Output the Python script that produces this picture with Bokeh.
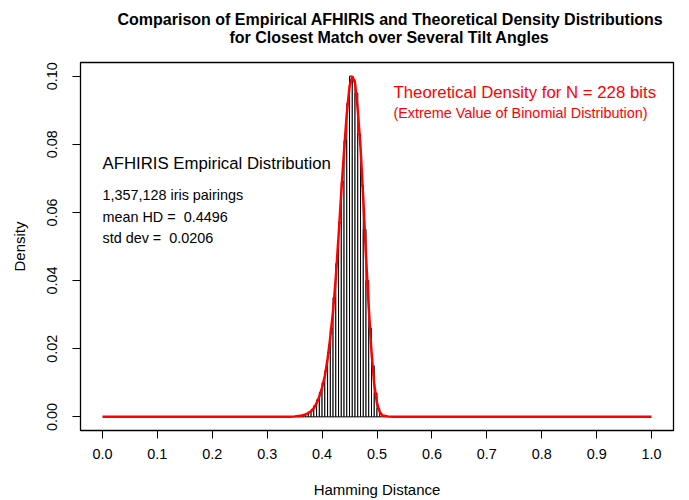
from bokeh.plotting import figure
from bokeh.models import Range1d, FixedTicker, PrintfTickFormatter, ColumnDataSource, Title
from bokeh.core.properties import value
from bokeh.embed import file_html
from bokeh.resources import INLINE

# ---- data ----
bin_left = [0.355, 0.360, 0.365, 0.370, 0.375, 0.380, 0.385, 0.390, 0.395, 0.400,
            0.405, 0.410, 0.415, 0.420, 0.425, 0.430, 0.435, 0.440, 0.445, 0.450,
            0.455, 0.460, 0.465, 0.470, 0.475, 0.480, 0.485, 0.490, 0.495, 0.500,
            0.505, 0.510]
bin_density = [0.0002, 0.0004, 0.0006, 0.0009, 0.0014, 0.0022, 0.0033, 0.0050, 0.0072, 0.0100,
               0.0135, 0.0190, 0.0260, 0.0350, 0.0450, 0.0570, 0.0690, 0.0810, 0.0920, 0.1000,
               0.0990, 0.0950, 0.0830, 0.0680, 0.0550, 0.0400, 0.0260, 0.0150, 0.0070, 0.0025,
               0.0008, 0.0002]
bin_width = 0.005

theory_x = [0.0, 0.34, 0.35, 0.36, 0.37, 0.38, 0.385, 0.39, 0.395, 0.40, 0.405, 0.41, 0.415,
            0.42, 0.425, 0.43, 0.435, 0.44, 0.445, 0.45, 0.455, 0.46, 0.465, 0.47, 0.475,
            0.48, 0.485, 0.49, 0.495, 0.50, 0.505, 0.51, 0.52, 0.53, 1.0]
theory_y = [0.0, 0.0, 0.0001, 0.0003, 0.0007, 0.0016, 0.0026, 0.0040, 0.0060, 0.0086, 0.012, 0.017,
            0.0235, 0.031, 0.041, 0.053, 0.066, 0.078, 0.089, 0.097, 0.100, 0.098, 0.090, 0.079,
            0.064, 0.047, 0.032, 0.019, 0.0095, 0.004, 0.0014, 0.0004, 0.0001, 0.0, 0.0]

x_ticks = [0.0, 0.1, 0.2, 0.3, 0.4, 0.5, 0.6, 0.7, 0.8, 0.9, 1.0]
y_ticks = [0.00, 0.02, 0.04, 0.06, 0.08, 0.10]

title_lines = ["Comparison of Empirical AFHIRIS and Theoretical Density Distributions",
               "for Closest Match over Several Tilt Angles"]
emp_lines = ["1,357,128 iris pairings", "mean HD =\u00a0\u00a00.4496", "std dev =\u00a0\u00a00.0206"]
emp_y = [0.0651, 0.0587, 0.0525]

FONT = "Liberation Sans"
BASE = "14.4px"
BIG = "16.8px"

p = figure(width=689, height=500, output_backend="svg", toolbar_location=None,
           x_range=Range1d(-0.04, 1.04), y_range=Range1d(-0.004, 0.104),
           min_border_left=80, min_border_right=16, min_border_top=62, min_border_bottom=70)
p.background_fill_color = "white"
p.border_fill_color = "white"
p.outline_line_color = "black"
p.outline_line_width = 1.3
p.xgrid.visible = False
p.ygrid.visible = False

p.title = None
# second title line carries an empty trailing line so that it sits higher above the frame
t2 = Title(text=title_lines[1] + "\n", align="left", text_font=FONT, text_font_size="16px",
           text_font_style="bold", standoff=0, offset=149, text_line_height=1.0,
           text_color="black")
t1 = Title(text=title_lines[0], align="left", text_font=FONT, text_font_size="16px",
           text_font_style="bold", standoff=-3, offset=37, text_color="black")
p.add_layout(t2, "above")
p.add_layout(t1, "above")

src = ColumnDataSource(dict(left=bin_left,
                            right=[b + bin_width for b in bin_left],
                            top=bin_density,
                            bottom=[0.0] * len(bin_left)))
p.quad(left="left", right="right", top="top", bottom="bottom", source=src,
       fill_color="white", line_color="black", line_width=1)

p.line(theory_x, theory_y, line_color="red", line_width=2.5)

for ax, ticks, fmt in ((p.xaxis[0], x_ticks, "%.1f"), (p.yaxis[0], y_ticks, "%.2f")):
    ax.ticker = FixedTicker(ticks=ticks)
    ax.formatter = PrintfTickFormatter(format=fmt)
    ax.bounds = (ticks[0], ticks[-1])
    ax.major_tick_out = 8
    ax.major_tick_in = 0
    ax.minor_tick_line_color = None
    ax.axis_line_color = "black"
    ax.major_label_text_font = FONT
    ax.major_label_text_font_size = BASE
    ax.major_label_text_color = "black"
    ax.axis_label_text_font = FONT
    ax.axis_label_text_font_size = "15px"
    ax.axis_label_text_font_style = "normal"
    ax.axis_label_text_color = "black"

p.xaxis.axis_label = "Hamming Distance"
p.yaxis.axis_label = "Density"
p.xaxis.major_label_standoff = 10
p.xaxis.axis_label_standoff = 19
p.yaxis.major_label_orientation = "vertical"
p.yaxis.major_label_standoff = 15
p.yaxis.axis_label_standoff = 17

p.text(x=[0.0], y=[0.0745], text=["AFHIRIS Empirical Distribution"], text_font=value(FONT),
       text_font_size=BIG, text_baseline="middle", text_align="left", text_color="black")
p.text(x=[0.0] * 3, y=emp_y, text=emp_lines, text_font=value(FONT),
       text_font_size=BASE, text_baseline="middle", text_align="left", text_color="black")
p.text(x=[0.53], y=[0.0953], text=["Theoretical Density for N = 228 bits"], text_font=value(FONT),
       text_font_size=BIG, text_baseline="middle", text_align="left", text_color="red")
p.text(x=[0.53], y=[0.0891], text=["(Extreme Value of Binomial Distribution)"], text_font=value(FONT),
       text_font_size=BASE, text_baseline="middle", text_align="left", text_color="red")

open("out.html", "w").write(file_html(p, INLINE))
